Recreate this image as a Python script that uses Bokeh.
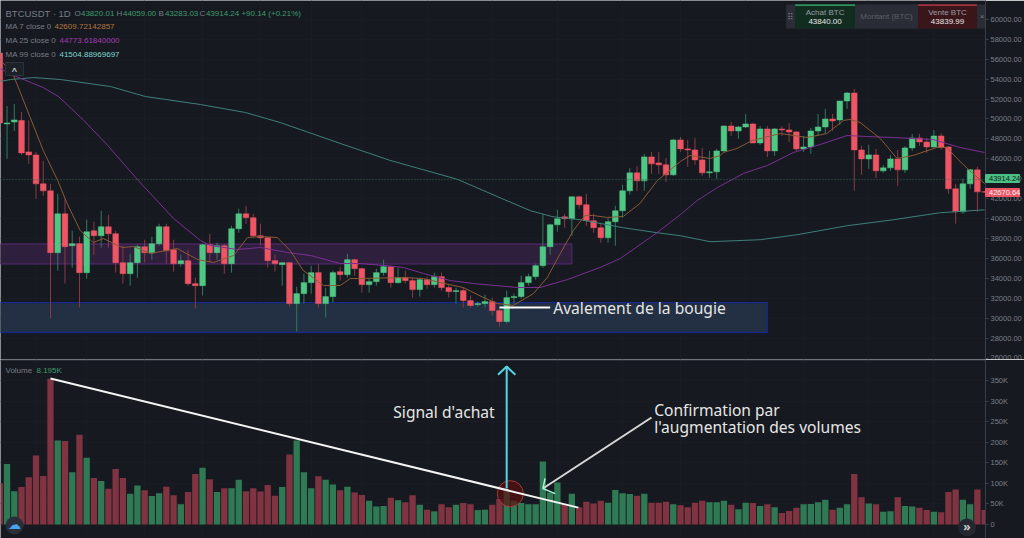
from bokeh.plotting import figure
from bokeh.layouts import column
from bokeh.models import Range1d, FixedTicker, NumeralTickFormatter, Label, Span, Div
from bokeh.embed import file_html
from bokeh.resources import INLINE

# ---- price data (thousands of USDT), one entry per daily candle
open_k = [56.6,49.5,49.7,49.85,46.7,46.4,43.5,42.8,36.6,40.5,37.3,37.5,34.6,38.8,38.3,39.2,38.5,35.6,34.5,35.6,
37.2,36.6,37.5,39.2,36.9,35.5,35.8,33.5,33.3,37.4,36.6,37.3,35.5,39.0,40.5,40.1,38.3,38.1,35.8,35.4,
35.6,31.5,32.5,33.6,34.6,31.5,32.2,34.7,34.4,35.9,35.0,33.4,33.7,34.6,35.2,33.6,34.1,33.8,32.9,33.9,
33.4,34.2,33.1,32.7,32.8,31.8,31.4,31.5,31.7,30.8,29.7,32.1,32.2,33.6,34.2,35.3,37.2,39.4,40.2,40.0,
42.2,41.4,39.8,39.1,38.1,39.7,40.8,42.8,44.6,43.8,46.2,45.6,45.4,44.4,47.9,47.0,46.9,45.9,44.6,44.7,
46.8,49.3,48.8,49.2,49.5,47.6,49.0,46.8,49.0,48.9,48.7,47.0,47.2,48.8,49.2,50.0,49.9,51.8,52.6,46.9,
46.0,46.4,44.8,45.1,46.0,44.9,47.1,48.1,47.7,47.2,48.3,47.2,43.0,40.7,43.5,44.9,42.7]
close_k = [49.6,49.6,49.9,46.6,46.4,43.5,42.8,36.6,40.5,37.2,37.5,34.6,38.7,38.3,39.2,38.5,35.6,34.5,35.6,37.2,
36.6,37.5,39.2,36.8,35.5,35.8,33.5,33.3,37.4,36.6,37.3,35.5,39.0,40.5,40.1,38.3,38.1,35.8,35.5,35.6,
31.5,32.5,33.6,34.6,31.5,32.2,34.6,34.4,35.9,35.0,33.4,33.7,34.6,35.2,33.6,34.1,33.8,32.9,33.9,33.4,
34.2,33.1,32.7,32.8,31.8,31.3,31.5,31.7,30.8,29.7,32.1,32.2,33.6,34.2,35.3,37.2,39.4,40.0,40.0,42.2,
41.4,39.8,39.1,38.1,39.7,40.8,42.8,44.6,43.8,46.2,45.5,45.4,44.4,47.9,47.0,46.9,45.9,44.6,44.7,46.8,
49.3,48.8,49.2,49.5,47.6,49.0,46.8,49.0,48.9,48.7,47.0,47.2,48.8,49.2,50.0,49.8,51.8,52.6,46.9,46.0,
46.4,44.8,45.1,46.0,44.9,47.1,48.1,47.7,47.2,48.3,47.2,43.0,40.7,43.5,44.9,42.7,42.67]
high_k = [56.7,51.3,51.5,50.7,49.85,46.7,45.8,43.5,42.5,42.0,38.8,38.2,39.9,39.7,40.8,40.4,38.8,37.3,36.5,37.4,
37.9,38.2,39.5,39.5,37.9,36.4,36.9,34.1,37.5,38.5,37.6,37.5,39.3,41.0,41.3,40.5,39.5,38.1,36.4,35.6,
35.6,33.2,34.5,35.3,35.5,33.1,34.8,35.2,36.5,36.0,35.1,34.0,35.0,35.9,35.3,35.1,34.8,34.1,34.0,34.2,
34.6,34.6,33.4,33.1,33.1,32.3,31.7,32.4,32.1,31.0,32.8,32.5,34.3,34.5,35.5,40.5,39.5,40.9,40.5,42.2,
42.3,42.5,40.5,39.6,40.1,41.3,43.4,45.1,45.3,46.5,46.7,46.7,46.1,48.0,48.2,47.9,48.1,47.1,46.8,47.0,
49.3,49.7,49.3,50.5,49.6,49.3,49.3,49.1,49.3,49.6,48.8,48.3,49.1,50.5,51.0,50.5,51.8,52.7,53.0,47.3,
47.4,47.0,45.4,46.4,46.9,47.3,48.5,48.5,48.1,48.9,48.6,47.3,43.5,44.0,45.0,45.2,42.8]
low_k = [48.7,46.0,48.8,46.4,45.5,42.0,42.3,30.0,34.8,33.5,35.1,31.1,34.0,36.4,37.1,37.1,34.6,33.5,33.3,34.1,
35.6,35.9,37.3,35.5,34.7,35.2,33.3,31.0,32.3,35.6,35.9,34.5,34.6,38.6,39.5,38.1,37.3,35.1,34.7,33.3,
31.2,28.7,31.5,32.5,31.1,30.1,31.6,33.8,34.1,34.3,32.6,32.6,33.3,34.3,33.1,33.5,33.5,32.1,32.2,33.0,
33.1,32.8,32.1,31.5,31.1,31.1,31.2,31.1,30.3,29.2,29.5,31.5,32.0,33.3,33.9,35.1,36.4,38.7,39.1,38.3,
41.0,39.3,38.6,37.6,37.6,37.3,40.1,42.4,42.8,42.8,44.5,44.5,43.7,44.3,46.7,45.2,45.4,44.3,44.1,44.0,
46.7,48.3,48.0,49.1,47.6,47.4,46.2,46.3,48.3,47.7,46.8,46.7,46.5,48.3,48.5,48.8,49.4,51.0,42.8,44.4,
45.0,44.1,44.6,44.8,43.3,44.6,46.8,47.3,46.6,47.1,46.9,42.5,39.5,40.5,43.0,40.7,42.6]
volume_k = [100,147,81,91,115,168,118,354,204,203,127,218,162,113,106,87,135,113,75,95,
83,69,76,92,71,49,79,123,138,110,79,88,88,109,81,88,80,96,70,91,
170,204,127,88,117,109,97,83,92,78,72,58,44,45,65,59,54,71,48,36,
32,49,42,48,52,49,35,36,48,62,84,58,52,49,49,153,78,102,50,75,
42,55,51,58,53,84,76,74,70,75,53,53,55,49,47,42,53,58,54,54,
58,48,37,53,52,45,49,42,28,33,41,49,50,54,60,36,41,49,123,66,
51,49,31,32,66,45,44,41,35,31,30,79,85,60,49,85,35]

# ---- moving averages (day index, thousands of USDT)
ma7_day = [0.4,1.9,4.2,6,8,9.3,11.1,12.9,14.3,16.9,18.5,20.8,24.5,27.3,29.5,32.3,34.2,36,38.3,40.1,41.9,44.7,47,48.4,49.4,55.7,58.5,60.8,64,66.8,68.7,70.9,73.7,75.6,77.4,79.2,80.8,81.9,83.9,86.1,88.4,90.8,94,95.3,98.1,99.5,99.9,101.8,103.9,107.8,111.5,114.2,116.5,117.4,118.8,121.6,123.9,126.1,129.4,130.8,132.2,133.9,136]
ma7_k = [55.66,54.36,50.15,46.84,43.83,41.53,38.82,37.62,38.02,37.12,37.22,36.52,37.02,35.92,35.62,36.32,38.12,38.22,38.12,36.82,34.82,33.31,33.31,34.01,34.01,34.11,34.01,33.61,33.11,32.11,31.51,31.31,32.51,34.11,36.52,38.82,40.33,40.33,40.13,40.23,41.53,43.83,45.74,46.34,46.04,46.34,46.64,47.04,47.84,48.54,48.14,48.54,49.85,49.95,49.65,48.04,46.04,46.34,47.14,47.14,46.04,44.84,43.53]
ma25_day = [0,1.9,6,8.1,11.6,14.9,19.1,24,27.7,29.1,32.8,36,39.7,42.9,47,49.8,53,55.7,58.5,62.2,65.4,71.5,74.6,78.4,82.9,85.7,90.8,94,96.3,99.1,102.7,106,109.6,113.3,117,119.8,123.4,128.9,132.6,136]
ma25_k = [55.06,54.36,53.15,52.25,49.85,47.35,43.85,40.03,37.82,37.32,36.92,37.12,36.62,36.32,35.52,35.52,35.32,35.12,34.52,33.81,33.51,33.11,33.11,33.91,35.12,36.02,38.62,40.43,41.83,43.13,44.54,45.34,46.64,47.44,48.34,48.24,48.14,47.94,47.14,46.64]
ma99_day = [0,1.5,4.7,8.4,15.3,20.1,27.7,33.9,38.7,47,53.9,63.2,69.1,73.3,76.4,80.2,86.1,90.8,94,98.1,105,110.1,117,123.4,129.8,136]
ma99_k = [53.75,53.95,54.15,53.95,53.25,52.25,51.45,50.65,49.65,47.55,45.85,43.95,42.1,40.8,40.2,39.9,39.1,38.6,38.3,37.7,37.9,38.4,39.3,39.9,40.6,40.9]

# ---- zones: start day, end day, low, high (thousands of USDT)
purple_zone = (-2, 79, 35.47, 37.47)
blue_zone = (-2, 106, 28.6, 31.6)

price_ticks = list(range(26000, 60001, 2000))
volume_ticks = [0, 50, 100, 150, 200, 250, 300, 350]
grid_days = [5, 12, 20, 28, 36, 43, 50, 59, 68, 77, 86, 94, 103, 111, 120, 129]
last_close = 43914.24

# ---- annotation lines (day index, thousands)
trend_day, trend_vol = [7, 79.9], [355, 41]
signal_day, signal_vol = [70, 70], [87.5, 384]
signal_head_day, signal_head_vol = [68.8, 70, 71.2], [364, 384, 364]
conf_day, conf_vol = [90, 75], [260, 87.5]
conf_head_day, conf_head_vol = [75.3, 75, 76.7], [112, 87.5, 75]
engulf_day, engulf_price = [69, 76], [31.1, 31.1]

BG = "#161a20"
GRID = "#191d23"
AXIS = "#3a3e48"
TICK = "#7a7d86"
UP, DOWN = "#50c785", "#ee5565"
UP_W, DOWN_W = "#2f7a5c", "#8a3a46"
UP_V, DOWN_V = "#2f7a54", "#803340"

n = len(open_k)
days = list(range(n))
price = lambda a: [v * 1000 for v in a]
ups = [c >= o for o, c in zip(open_k, close_k)]

# pixel helpers, used for the frame and for the decorations only
day_of = lambda px: (px + 0.7) / 7.245
price_of = lambda py: 61870 - py * 100.2
vol_of = lambda py: (524 - py) / 0.4114 * 1000


def make(height, y0, y1):
    p = figure(width=1024, height=height, x_range=Range1d(day_of(0), day_of(985.5)),
               y_range=Range1d(y0, y1), output_backend="svg", toolbar_location=None,
               y_axis_location="right", min_border=0, min_border_left=0, min_border_right=39,
               min_border_top=0, min_border_bottom=0, background_fill_color=BG,
               border_fill_color=BG, outline_line_color=None)
    p.xaxis.visible = False
    p.xgrid.ticker = FixedTicker(ticks=grid_days)
    p.xgrid.grid_line_color = GRID
    p.ygrid.grid_line_color = GRID
    ax = p.yaxis[0]
    ax.axis_line_color = AXIS
    ax.major_tick_line_color = AXIS
    ax.major_tick_in = 0
    ax.major_tick_out = 3
    ax.minor_tick_line_color = None
    ax.major_label_text_color = TICK
    ax.major_label_text_font = "Liberation Sans"
    ax.major_label_text_font_size = "7.5px"
    ax.major_label_standoff = 2
    return p


def label(p, to_y, px, py, text, color, size=8, font="Liberation Sans", align="left", style="normal", bg=None):
    p.add_layout(Label(x=day_of(px), y=to_y(py), text=text, text_color=color, text_font=font,
                       text_font_size=f"{size}px", text_align=align, text_baseline="middle",
                       text_font_style=style, background_fill_color=bg))


def box(p, to_y, x0, x1, y0, y1, color, line=None):
    p.quad(left=[day_of(x0)], right=[day_of(x1)], bottom=[to_y(y1)], top=[to_y(y0)],
           fill_color=color, line_color=line)


def tag(text, top, height, fill, color, page_h=538):
    # HTML tag laid over the axis; margins give it no height of its own in the column
    return Div(text=text, width=35, height=height, margin=(top - page_h, 0, page_h - top - height, 985),
               styles={"background-color": fill, "color": color, "font-size": "7.5px", "padding-left": "4px",
                       "line-height": f"{height}px", "font-family": "Liberation Sans", "z-index": "5",
                       "border-radius": "1px", "box-sizing": "border-box"})


# ---------------- price pane
p1 = make(359, price_of(359), price_of(0))
p1.yaxis[0].ticker = FixedTicker(ticks=price_ticks)
p1.yaxis[0].formatter = NumeralTickFormatter(format="0.00")
p1.ygrid.ticker = FixedTicker(ticks=price_ticks)

for z, fill, edge in ((purple_zone, "#2e1f3c", "#5a2a78"), (blue_zone, "#232f42", "#1428a0")):
    p1.quad(left=[z[0]], right=[z[1]], bottom=[z[2] * 1000], top=[z[3] * 1000],
            fill_color=fill, line_color=edge, line_width=1)

p1.add_layout(Span(location=last_close, dimension="width", line_color="#2f6b4c", line_dash="1 2", line_width=1))

p1.segment(x0=days, x1=days, y0=price(low_k), y1=price(high_k),
           line_color=[UP_W if u else DOWN_W for u in ups], line_width=1)
p1.vbar(x=days, width=0.78, bottom=price([min(o, c) for o, c in zip(open_k, close_k)]),
        top=price([max(o, c) for o, c in zip(open_k, close_k)]),
        fill_color=[UP if u else DOWN for u in ups], line_color=[UP if u else DOWN for u in ups], line_width=0.5)

p1.line(ma99_day, price(ma99_k), line_color="#3f7f7a", line_width=1)
p1.line(ma25_day, price(ma25_k), line_color="#7b2f93", line_width=1)
p1.line(ma7_day, price(ma7_k), line_color="#8a5a35", line_width=1)

p1.line(engulf_day, price(engulf_price), line_color="#ffffff", line_width=2)
label(p1, price_of, 553, 307, "Avalement de la bougie", "#e6e6e6", 15.6, "Noto Sans")

# header
label(p1, price_of, 5, 12.5, "BTCUSDT", "#787b86", 9.5)
label(p1, price_of, 52.5, 12.5, "·", "#787b86", 9.5)
label(p1, price_of, 58, 12.5, "1D", "#787b86", 9.5)
G = "#3d9a6c"
for px, key, val in ((74, "O", "43820.01"), (116, "H", "44059.00"), (158, "B", "43283.03"), (199, "C", "43914.24")):
    label(p1, price_of, px, 12.5, key, "#787b86", 8)
    label(p1, price_of, px + 6.5, 12.5, val, G, 8)
label(p1, price_of, 241, 12.5, "+90.14 (+0.21%)", G, 8)
for py, name, vx, val, c in ((26, "MA 7 close 0", 54, "42609.72142857", "#b5763f"),
                             (40, "MA 25 close 0", 59, "44773.61840000", "#a33ab2"),
                             (54, "MA 99 close 0", 59, "41504.88969697", "#7fd4d0")):
    label(p1, price_of, 5, py, name, "#787b86", 8)
    label(p1, price_of, vx, py, val, c, 8)
box(p1, price_of, 5, 23, 62, 75, "#1c2027", "#2e323b")
label(p1, price_of, 14, 70, "^", "#c8c8c8", 9, align="center", style="bold")

# trade widget
box(p1, price_of, 786, 985.5, 4, 28, "#2a2d35")
box(p1, price_of, 795, 855, 4, 28, "#122c20")
box(p1, price_of, 855, 918, 4, 28, "#2a2d35")
box(p1, price_of, 918, 977, 4, 28, "#3a1519")
box(p1, price_of, 795, 855, 4, 5.2, "#3cb878")
box(p1, price_of, 918, 977, 4, 5.2, "#c83c4c")
label(p1, price_of, 825, 12, "Achat BTC", "#9a9da5", 8, align="center")
label(p1, price_of, 825, 21, "43840.00", "#e8e8e8", 8, align="center")
label(p1, price_of, 886.5, 16, "Montant (BTC)", "#5c5f68", 8, align="center")
label(p1, price_of, 947.5, 12, "Vente BTC", "#9a9da5", 8, align="center")
label(p1, price_of, 947.5, 21, "43839.99", "#e8e8e8", 8, align="center")
label(p1, price_of, 790.5, 16, "⠿", "#777a82", 9, "DejaVu Sans", align="center")
label(p1, price_of, 982, 16, "×", "#777a82", 8, align="center")

# ---------------- volume pane
p2 = make(179, vol_of(538), vol_of(359))
vt = [v * 1000 for v in volume_ticks]
p2.yaxis[0].ticker = FixedTicker(ticks=vt)
p2.yaxis[0].major_label_overrides = {v * 1000: ("0" if v == 0 else f"{v}K") for v in volume_ticks}
p2.ygrid.ticker = FixedTicker(ticks=vt)
p2.add_layout(Span(location=vol_of(359.7), dimension="width", line_color="#2a2e38", line_width=1.5))

p2.vbar(x=days, width=0.87, bottom=0, top=[v * 1000 for v in volume_k],
        fill_color=[UP_V if u else DOWN_V for u in ups], line_color=None)

p2.scatter([70.5], [75000], size=26, marker="circle", fill_color="#5a1010", fill_alpha=0.7,
           line_color="#a83a3a", line_width=1)
p2.line(trend_day, [v * 1000 for v in trend_vol], line_color="#f4f4f4", line_width=2)
p2.line(signal_day, [v * 1000 for v in signal_vol], line_color="#52d6e6", line_width=2)
p2.line(signal_head_day, [v * 1000 for v in signal_head_vol], line_color="#52d6e6", line_width=2)
p2.line(conf_day, [v * 1000 for v in conf_vol], line_color="#d8d8d8", line_width=2)
p2.line(conf_head_day, [v * 1000 for v in conf_head_vol], line_color="#a8f0d8", line_width=1.5)

label(p2, vol_of, 5, 369.5, "Volume", "#787b86", 8)
label(p2, vol_of, 36, 369.5, "8.195K", G, 8)
label(p2, vol_of, 393, 411, "Signal d'achat", "#e6e6e6", 15.6, "Noto Sans")
label(p2, vol_of, 654, 409, "Confirmation par", "#e6e6e6", 15.6, "Noto Sans")
label(p2, vol_of, 654, 426, "l'augmentation des volumes", "#e6e6e6", 15.6, "Noto Sans")

p2.scatter([day_of(14)], [vol_of(525)], size=18, marker="circle", fill_color="#2a2e39", line_color=None)
label(p2, vol_of, 14, 524, "☁", "#4aa3f0", 13, "DejaVu Sans", align="center")
p2.scatter([day_of(967)], [vol_of(527)], size=18, marker="circle", fill_color="#24272f", line_color=None)
label(p2, vol_of, 967, 526, "»", "#c8c8c8", 12, "Noto Sans", align="center", style="bold")

page = column(p1, p2, tag("43914.24", 174, 9, "#4bc084", "#12181a"), tag("42670.64", 188, 9, "#ee5565", "#f4f4f4"),
              spacing=0, margin=(0, 0, 0, 0))
open("out.html", "w").write(file_html(page, INLINE))
